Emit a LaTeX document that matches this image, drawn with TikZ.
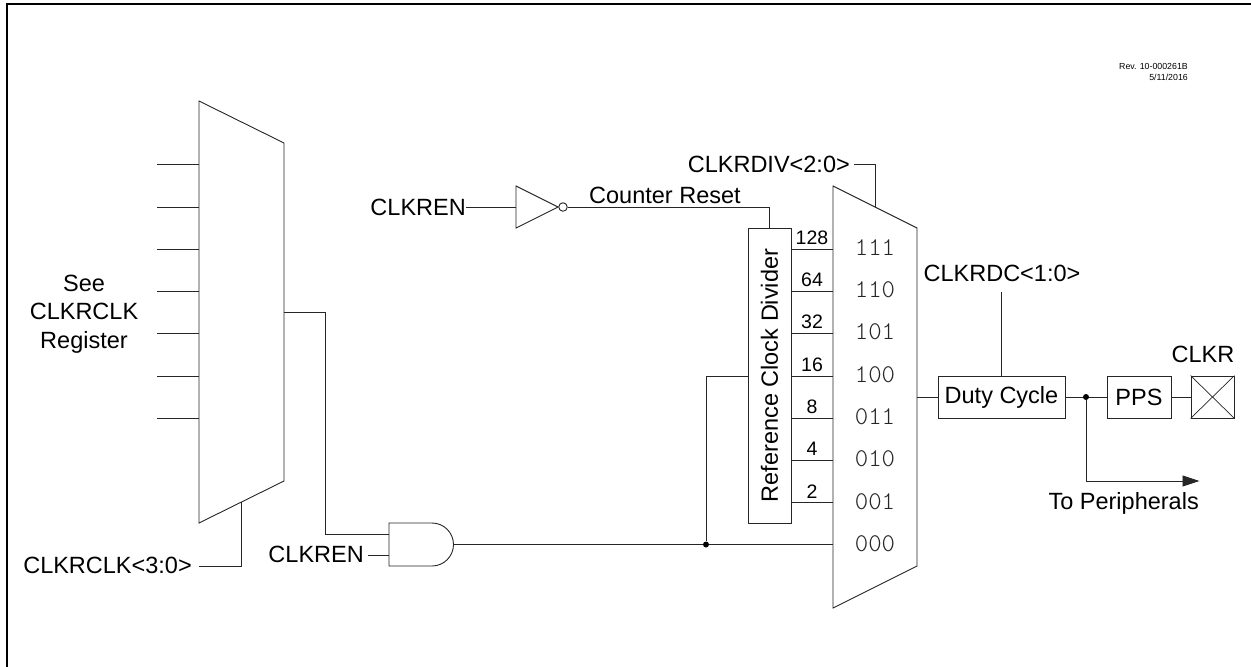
\documentclass[tikz,border=0pt]{standalone}
\usepackage{fontspec}
\setmainfont{Liberation Sans}
\newfontfamily\monofam{Latin Modern Mono Light}
\usetikzlibrary{arrows.meta,calc}
\tikzset{
  wire/.style={line width=0.9pt,draw=black!85},
  shp/.style={line width=0.9pt,draw=black!85,fill=white},
  blk/.style={shp,rectangle,inner sep=0pt,font=\fontsize{23.5}{27}\selectfont},
  lbl/.style={inner sep=0pt,font=\fontsize{23.5}{27}\selectfont,text=black},
  num/.style={inner sep=0pt,font=\fontsize{19.5}{22}\selectfont,text=black},
  sel/.style={inner sep=0pt,text=black!85,font=\monofam\fontsize{25.5}{28}\selectfont},
  dot/.style={circle,fill=black,inner sep=0pt,minimum size=6pt},
}
\begin{document}
\begin{tikzpicture}[x=1pt,y=-1pt]
\useasboundingbox (0,0) rectangle (1251,667);
\draw[line width=2.2pt,black] (7,667) |- (1251,4);
% left mux
\coordinate (lm1) at (199,101); \coordinate (lm2) at (284,143);
\coordinate (lm3) at (284,481); \coordinate (lm4) at (199,523);
\draw[shp] (lm1) -- (lm2) -- (lm3) -- (lm4) -- cycle;
\foreach \y/\n in {164.5/1,207/2,249/3,291/4,333/5,376/6,418/7}{
  \coordinate (li\n) at (157,\y);
  \coordinate (lp\n) at (199,\y);
  \draw[wire] (li\n) -- (lp\n);
}
\node[lbl,align=center,font=\fontsize{23.5}{28.4}\selectfont] (see) at (84,314) {See\\CLKRCLK\\Register};
\node[lbl,anchor=east] (clkrclk) at (192,565) {CLKRCLK<3:0>};
\coordinate (lsel) at (241,502);
\draw[wire] (199,566) coordinate (lsele) -| (lsel);
% AND
\coordinate (ag1) at (389,523); \coordinate (ag2) at (389,566);
\draw[shp] (ag1) -- (432,523) arc[start angle=-90,end angle=90,radius=21.5] -- (ag2) -- cycle;
\coordinate (agout) at (453.5,544.5);
\coordinate (agin1) at (389,534); \coordinate (agin2) at (389,555);
\coordinate (lout) at (284,312.5);
\draw[wire] (lout) -- (325.5,312.5) |- (agin1);
\node[lbl,anchor=east] (cken2) at (364,554) {CLKREN};
\draw[wire] (368,555) coordinate (ck2e) -- (agin2);
% inverter
\node[lbl,anchor=east] (cken1) at (466,207) {CLKREN};
\coordinate (inv1) at (516,186); \coordinate (inv2) at (516,228); \coordinate (inv3) at (558,207);
\draw[shp] (inv1) -- (inv3) -- (inv2) -- cycle;
\draw[wire] (cken1.east) -- (516,207);
\node[shp,circle,inner sep=0pt,minimum size=8.5pt] (bub) at (563,207) {};
% divider
\node[blk,minimum width=43pt,minimum height=295pt] (div) at (769.5,375.5) {\rotatebox{90}{Reference Clock Divider}};
\draw[wire] (bub.east) -| (div.north);
\node[lbl,anchor=base west] (crst) at (589,203.5) {Counter Reset};
% right mux
\coordinate (rm1) at (833,186); \coordinate (rm2) at (917,228);
\coordinate (rm3) at (917,566); \coordinate (rm4) at (833,608);
\draw[shp] (rm1) -- (rm2) -- (rm3) -- (rm4) -- cycle;
\foreach \y/\t/\b in {249/128/111,291/64/110,333/32/101,376/16/100,418/8/011,460/4/010,502.5/2/001}{
  \draw[wire] (791,\y) -- (833,\y);
  \node[num,anchor=base] at (812,\y-4.5) {\t};
  \node[sel] at (875,\y-1) {\b};
}
\node[sel] (s000) at (875,544) {000};
\coordinate (rp0) at (833,544.5);
\draw[wire] (agout) -- (rp0);
\node[dot] (j1) at (706,544.5) {};
\draw[wire] (j1) |- (748,376);
\node[lbl,anchor=east] (divlbl) at (850,164) {CLKRDIV<2:0>};
\coordinate (rsel) at (875,207);
\draw[wire] (854,164.5) -| (rsel);
% outputs
\node[blk,minimum width=127pt,minimum height=42pt] (duty) at (1001.5,397) {Duty Cycle};
\coordinate (rout) at (917,397);
\draw[wire] (rout) -- (duty.west);
\node[lbl] (dclbl) at (1002,273) {CLKRDC<1:0>};
\coordinate (dctop) at (1001.5,292);
\draw[wire] (dctop) -- (duty.north);
\node[blk,minimum width=64pt,minimum height=42pt] (pps) at (1139,397) {PPS};
\node[shp,rectangle,inner sep=0pt,minimum width=43pt,minimum height=42pt] (pad) at (1212.5,397) {};
\draw[line width=0.7pt,black!85] (pad.north west) -- (pad.south east) (pad.north east) -- (pad.south west);
\draw[wire] (duty.east) -- (pps.west);
\draw[wire] (pps.east) -- (pad.west);
\node[dot] (j2) at (1086,397) {};
\coordinate (toper) at (1199.5,481);
\draw[wire,-{Triangle[length=17pt,width=11pt]}] (j2) |- (toper);
\node[lbl] (clkr) at (1203,354) {CLKR};
\node[lbl,anchor=east] (tp) at (1199,503) {To Peripherals};
\node[inner sep=0pt,anchor=north east,align=right,font=\fontsize{8.8}{11}\selectfont] (rev) at (1188,63) {Rev. 10-000261B\\5/11/2016};
\end{tikzpicture}
\end{document}
